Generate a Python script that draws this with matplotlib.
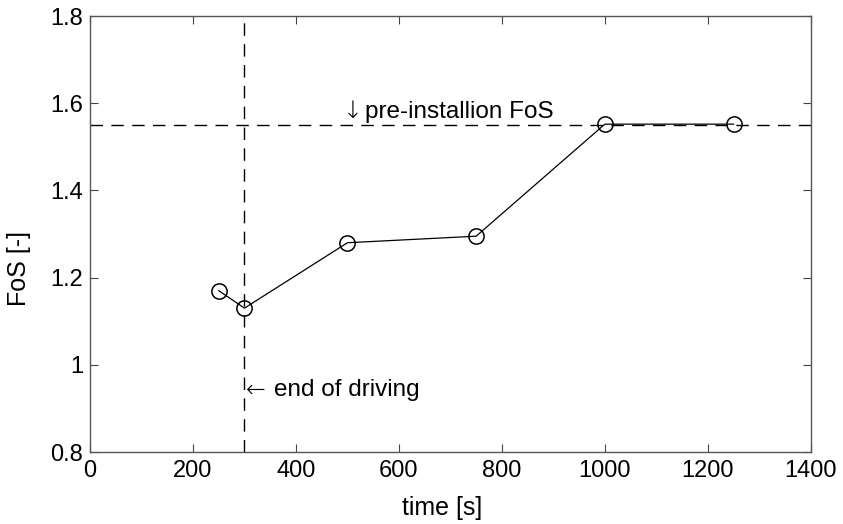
import matplotlib
matplotlib.use("Agg")
import matplotlib.pyplot as plt

plt.rcParams['font.family'] = ['Liberation Sans', 'DejaVu Sans']

time_s = [250, 300, 500, 750, 1000, 1250]
fos = [1.17, 1.13, 1.28, 1.295, 1.552, 1.552]
pre_install_fos = 1.55
end_of_driving = 300
x_ticks = [0, 200, 400, 600, 800, 1000, 1200, 1400]
y_ticks = [0.8, 1.0, 1.2, 1.4, 1.6, 1.8]
y_tick_labels = ['0.8', '1', '1.2', '1.4', '1.6', '1.8']

fig = plt.figure(figsize=(8.43, 5.24), dpi=100)
ax = fig.add_axes([0.1068, 0.1374, 0.855, 0.832])

dash = (0, (9, 6))
ax.axhline(pre_install_fos, color='black', lw=1.0, linestyle=dash)
ax.axvline(end_of_driving, color='black', lw=1.0, linestyle=dash)

ax.plot(time_s, fos, color='black', lw=0.9, marker='o', markersize=11,
        markerfacecolor='none', markeredgecolor='black', markeredgewidth=1.1)

# annotations: arrow glyphs drawn in DejaVu Sans, words in Liberation Sans
arrow_font = dict(family='DejaVu Sans', fontsize=17, fontweight='light')
ax.text(510, 1.566, '\u2193', ha='center', va='baseline', **arrow_font)
ax.text(534, 1.566, 'pre-installion FoS', fontsize=17.5, ha='left', va='baseline')
ax.text(302, 0.942, '\u2190', ha='left', va='center', **arrow_font)
ax.text(358, 0.942, 'end of driving', fontsize=17.5, ha='left', va='center')

ax.set_xlim(0, 1400)
ax.set_ylim(0.8, 1.8)
ax.set_xticks(x_ticks)
ax.set_yticks(y_ticks)
ax.set_yticklabels(y_tick_labels)
ax.tick_params(direction='in', length=6, width=0.8, labelsize=17, top=True, right=True,
               color='#444444')
ax.tick_params(axis='x', pad=6)
ax.tick_params(axis='y', pad=5)
for s in ax.spines.values():
    s.set_color('#555555')
    s.set_linewidth(1.0)

ax.set_xlabel('time [s]', fontsize=18)
ax.set_ylabel('FoS [-]', fontsize=18)
ax.xaxis.set_label_coords(0.488, -0.100)
ax.yaxis.set_label_coords(-0.082, 0.42)

fig.savefig('out.png', dpi=100)
